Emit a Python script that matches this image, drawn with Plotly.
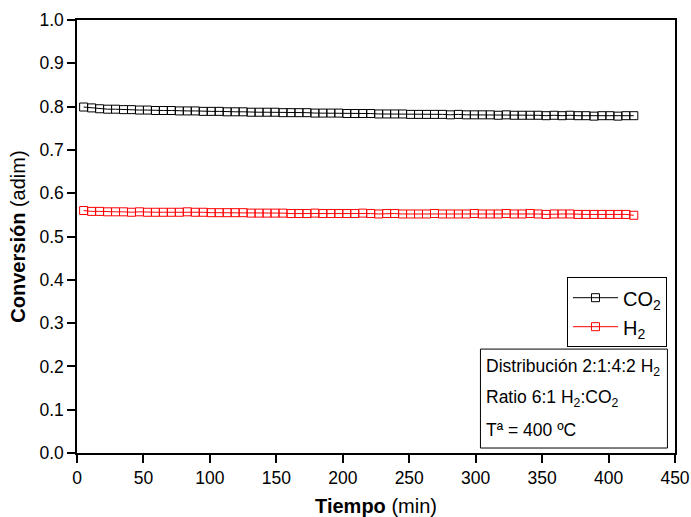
import plotly.graph_objects as go

time_min = [5 + 6 * i for i in range(70)]

co2 = [0.799,0.797,0.795,0.794,0.794,0.793,0.793,0.792,0.792,0.791,
       0.791,0.791,0.790,0.790,0.790,0.789,0.789,0.789,0.788,0.788,
       0.788,0.787,0.787,0.787,0.787,0.786,0.786,0.786,0.786,0.785,
       0.785,0.785,0.785,0.784,0.784,0.784,0.784,0.783,0.783,0.783,
       0.783,0.782,0.782,0.782,0.782,0.782,0.781,0.782,0.781,0.781,
       0.781,0.781,0.780,0.781,0.780,0.780,0.780,0.780,0.779,0.780,
       0.779,0.780,0.779,0.779,0.778,0.779,0.779,0.778,0.779,0.779]

h2 = [0.560,0.558,0.558,0.557,0.557,0.557,0.556,0.557,0.556,0.556,
      0.556,0.556,0.556,0.557,0.556,0.556,0.555,0.555,0.555,0.555,
      0.555,0.554,0.554,0.554,0.554,0.554,0.553,0.553,0.553,0.554,
      0.553,0.553,0.553,0.553,0.553,0.554,0.553,0.552,0.553,0.553,
      0.552,0.552,0.552,0.552,0.553,0.552,0.552,0.552,0.552,0.553,
      0.552,0.552,0.552,0.553,0.552,0.552,0.553,0.552,0.551,0.552,
      0.552,0.552,0.551,0.551,0.551,0.551,0.551,0.551,0.551,0.549]

x_ticks = [0, 50, 100, 150, 200, 250, 300, 350, 400, 450]
y_ticks = [0.0, 0.1, 0.2, 0.3, 0.4, 0.5, 0.6, 0.7, 0.8, 0.9, 1.0]

info_lines = ["Distribución 2:1:4:2 H<sub>2</sub>",
              "Ratio 6:1 H<sub>2</sub>:CO<sub>2</sub>",
              "Tª = 400 ºC"]

FONT = "Liberation Sans, Arial, sans-serif"

fig = go.Figure()
fig.add_trace(go.Scatter(x=time_min, y=co2, mode="lines+markers", name="CO<sub>2</sub>",
                         line=dict(color="black", width=1),
                         marker=dict(symbol="square-open", size=8, color="black", line=dict(width=1))))
fig.add_trace(go.Scatter(x=time_min, y=h2, mode="lines+markers", name="H<sub>2</sub>",
                         line=dict(color="red", width=1),
                         marker=dict(symbol="square-open", size=8, color="red", line=dict(width=1))))

axis_common = dict(showline=True, linecolor="black", linewidth=1.5, mirror=True,
                   ticks="outside", ticklen=8, tickwidth=1.5, tickcolor="black",
                   showgrid=False, zeroline=False, automargin=False,
                   tickfont=dict(family=FONT, size=17.5, color="black"))

fig.update_xaxes(range=[0, 450], tickvals=x_ticks, ticktext=[str(v) for v in x_ticks],
                 title=dict(text="<b>Tiempo</b> (min)", font=dict(family=FONT, size=20, color="black"), standoff=12),
                 **axis_common)
fig.update_yaxes(range=[0, 1.0], tickvals=y_ticks, ticktext=[f"{v:.1f}" for v in y_ticks],
                 title=dict(text="<b>Conversión</b> (adim)", font=dict(family=FONT, size=20, color="black"), standoff=8),
                 **axis_common)

# info box
fig.add_shape(type="rect", xref="x", yref="y", x0=303.6, x1=444.3, y0=0.0115, y1=0.240,
              line=dict(color="black", width=1), fillcolor="white")
ys = [0.198, 0.125, 0.053]
for txt, yv in zip(info_lines, ys):
    fig.add_annotation(x=306.5, y=yv, xref="x", yref="y", text=txt, showarrow=False,
                       xanchor="left", yanchor="middle",
                       font=dict(family=FONT, size=17.5, color="black"))

fig.update_layout(
    width=691, height=517,
    margin=dict(l=77, r=16, t=20, b=64),
    paper_bgcolor="white", plot_bgcolor="white",
    font=dict(family=FONT, color="black"),
    legend=dict(x=0.9866, y=0.406, xanchor="right", yanchor="top",
                bordercolor="black", borderwidth=1, bgcolor="white",
                font=dict(family=FONT, size=20, color="black"),
                itemwidth=45, tracegroupgap=0),
)

fig.write_html("out.html")
